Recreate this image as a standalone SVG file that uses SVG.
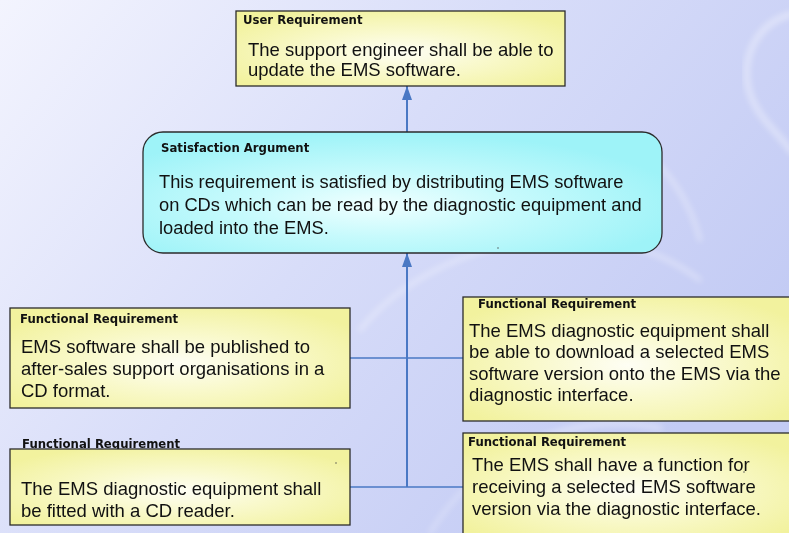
<svg xmlns="http://www.w3.org/2000/svg" width="789" height="533" viewBox="0 0 789 533">
  <defs>
    <linearGradient id="bg" x1="0" y1="0" x2="1" y2="0.55">
      <stop offset="0" stop-color="#f3f4fe"/>
      <stop offset="0.5" stop-color="#d8ddf9"/>
      <stop offset="1" stop-color="#c3cbf4"/>
    </linearGradient>
    <radialGradient id="yellow" cx="0.5" cy="0.55" r="0.62">
      <stop offset="0" stop-color="#fefef4"/>
      <stop offset="0.45" stop-color="#f9f9cc"/>
      <stop offset="1" stop-color="#f2f29e"/>
    </radialGradient>
    <radialGradient id="cyan" cx="0.45" cy="0.6" r="0.6">
      <stop offset="0" stop-color="#f0ffff"/>
      <stop offset="0.45" stop-color="#c6fafc"/>
      <stop offset="1" stop-color="#9ef3f8"/>
    </radialGradient>
    <filter id="soft" x="-10%" y="-10%" width="120%" height="120%">
      <feGaussianBlur stdDeviation="3"/>
    </filter>
    <marker id="head" viewBox="0 0 14 10" refX="14" refY="5" markerWidth="14" markerHeight="10" markerUnits="userSpaceOnUse" orient="auto">
      <path d="M0,0 L14,5 L0,10 Z" fill="#4a78c4"/>
    </marker>
    <style>
      .box { stroke: #2b2b2b; stroke-width: 1.3; }
      .title { font-family: "DejaVu Sans", Verdana, sans-serif; font-weight: bold; font-size: 11.7px; fill: #111; }
      .body { font-family: "Liberation Sans", Arial, sans-serif; font-size: 18.5px; fill: #111; }
      .arg { font-size: 18.3px; }
      .link { stroke: #4a78c4; fill: none; }
      .swirl { stroke: #ffffff; fill: none; stroke-linecap: round; filter: url(#soft); }
      .dot { fill: #444; }
    </style>
  </defs>

  <!-- backdrop -->
  <rect width="789" height="533" fill="url(#bg)"/>
  <g id="backdrop-swirls" opacity="0.4">
    <path class="swirl" stroke-width="6" d="M792 14 C760 22 742 52 748 86 C754 116 778 132 792 152"/>
    <path class="swirl" stroke-width="4" d="M360 330 C400 280 470 246 540 240 C610 234 660 250 700 280"/>
    <path class="swirl" stroke-width="4" d="M640 150 C665 165 690 200 700 240"/>
    <path class="swirl" stroke-width="5" d="M520 450 C560 425 610 418 660 428"/>
    <path class="swirl" stroke-width="3" d="M430 533 C450 500 480 470 520 450"/>
  </g>

  <!-- connectors -->
  <g id="connectors">
    <line class="link" stroke-width="2" x1="407" y1="132" x2="407" y2="86" marker-end="url(#head)"/>
    <line class="link" stroke-width="2" x1="407" y1="487" x2="407" y2="253" marker-end="url(#head)"/>
    <line class="link" stroke-width="1.5" x1="350" y1="358" x2="463" y2="358"/>
    <line class="link" stroke-width="1.5" x1="350" y1="487" x2="463" y2="487"/>
  </g>

  <!-- user requirement -->
  <g id="user-requirement">
    <rect class="box" x="236" y="11" width="329" height="75" fill="url(#yellow)"/>
    <text class="title" x="243" y="24">User Requirement</text>
    <text class="body" x="248" y="56">The support engineer shall be able to</text>
    <text class="body" x="248" y="76">update the EMS software.</text>
  </g>

  <!-- satisfaction argument -->
  <g id="satisfaction-argument">
    <rect class="box" x="143" y="132" width="519" height="121" rx="20" ry="20" fill="url(#cyan)"/>
    <text class="title" x="161" y="152">Satisfaction Argument</text>
    <text class="body arg" x="159" y="188">This requirement is satisfied by distributing EMS software</text>
    <text class="body arg" x="159" y="211">on CDs which can be read by the diagnostic equipment and</text>
    <text class="body arg" x="159" y="234">loaded into the EMS.</text>
    <circle class="dot" cx="498" cy="248" r="0.7"/>
  </g>

  <!-- functional requirement: publishing -->
  <g id="fr-publish">
    <rect class="box" x="10" y="308" width="340" height="100" fill="url(#yellow)"/>
    <text class="title" x="20" y="323">Functional Requirement</text>
    <text class="body" x="21" y="353">EMS software shall be published to</text>
    <text class="body" x="21" y="375">after-sales support organisations in a</text>
    <text class="body" x="21" y="397">CD format.</text>
  </g>

  <!-- functional requirement: download -->
  <g id="fr-download">
    <rect class="box" x="463" y="297" width="330" height="124" fill="url(#yellow)"/>
    <text class="title" x="478" y="308">Functional Requirement</text>
    <text class="body" x="469" y="337">The EMS diagnostic equipment shall</text>
    <text class="body" x="469" y="358">be able to download a selected EMS</text>
    <text class="body" x="469" y="380">software version onto the EMS via the</text>
    <text class="body" x="469" y="401">diagnostic interface.</text>
    <circle class="dot" cx="529" cy="353" r="0.7"/>
  </g>

  <!-- functional requirement: CD reader -->
  <g id="fr-cd-reader">
    <text class="title" x="22" y="448">Functional Requirement</text>
    <rect class="box" x="10" y="449" width="340" height="76" fill="url(#yellow)"/>
    <text class="body" x="21" y="495">The EMS diagnostic equipment shall</text>
    <text class="body" x="21" y="517">be fitted with a CD reader.</text>
    <circle class="dot" cx="336" cy="463" r="0.7"/>
  </g>

  <!-- functional requirement: receiving -->
  <g id="fr-receive">
    <rect class="box" x="463" y="433" width="330" height="104" fill="url(#yellow)"/>
    <text class="title" x="468" y="446">Functional Requirement</text>
    <text class="body" x="472" y="471">The EMS shall have a function for</text>
    <text class="body" x="472" y="493">receiving a selected EMS software</text>
    <text class="body" x="472" y="515">version via the diagnostic interface.</text>
    <circle class="dot" cx="744" cy="472" r="0.7"/>
  </g>
</svg>
